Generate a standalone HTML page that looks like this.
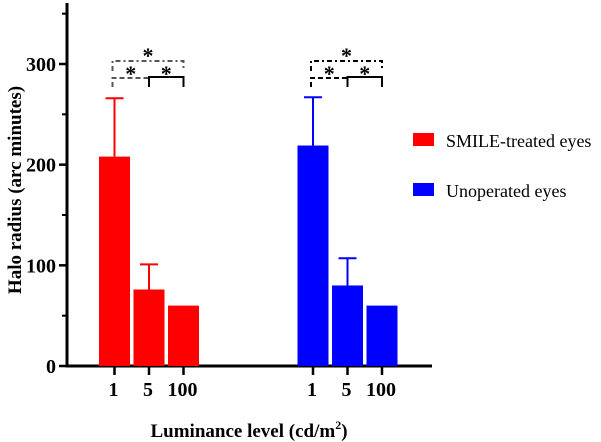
<!DOCTYPE html>
<html><head><meta charset="utf-8"><style>
html,body{margin:0;padding:0;background:#fff;}
svg{display:block;}
svg text{font-family:"Liberation Serif",serif;}
</style></head><body>
<svg id="chart" width="601" height="442" viewBox="0 0 601 442">
<g id="axes"></g>
<g id="bars"></g>
<g id="sig"></g>
<text transform="translate(21,190) rotate(-90)" text-anchor="middle" font-size="19" font-weight="bold" font-family="Liberation Serif, serif">Halo radius (arc minutes)</text>
<text x="249" y="437" text-anchor="middle" font-size="19" font-weight="bold" font-family="Liberation Serif, serif">Luminance level (cd/m<tspan font-size="12" dy="-8">2</tspan><tspan dy="8">)</tspan></text>
<g>
<rect x="413" y="133" width="21" height="13" fill="#ff0000"/>
<text x="446" y="147" font-size="18" font-family="Liberation Serif, serif">SMILE-treated eyes</text>
<rect x="413" y="183" width="21" height="13" fill="#0000ff"/>
<text x="446" y="197" font-size="18" font-family="Liberation Serif, serif">Unoperated eyes</text>
</g>
</svg>
<script>
const categories = ["1","5","100"];
const smileValues = [208, 76, 60];
const smileErrors = [58, 25, 0];
const unopValues = [219, 80, 60];
const unopErrors = [48, 27, 0];
const yTicks = [0, 100, 200, 300];
const yMinorTicks = [50, 150, 250, 350];

const NS = "http://www.w3.org/2000/svg";
const y0 = 366, pxPer = 302/300;
const y = v => y0 - v * pxPer;
const groupStart = [114.5, 313];
const pitch = 34.5, barW = 31;
const xc = (g, i) => groupStart[g] + i * pitch;

function mk(parent, tag, attrs) {
  const el = document.createElementNS(NS, tag);
  for (const k in attrs) el.setAttribute(k, attrs[k]);
  parent.appendChild(el);
  return el;
}
const axes = document.getElementById('axes');
let a = mk(axes, 'line', {x1:67, y1:3, x2:67, y2:y0+1.5, stroke:'#000','stroke-width':3});


a = mk(axes, 'line', {x1:65.5, y1:y0, x2:432, y2:y0, stroke:'#000','stroke-width':3});


yTicks.forEach(t => {
  const l = mk(axes, 'line', {x1:59, y1:y(t), x2:67, y2:y(t), stroke:'#000','stroke-width':2.5});
  
  
  const tx = mk(axes, 'text', {x:56, y:y(t)+7, 'text-anchor':'end','font-size':20,'font-weight':'bold','font-family':'Liberation Serif, serif'});
  tx.textContent = t;
  
  
});
yMinorTicks.forEach(t => {
  const l = mk(axes, 'line', {x1:62, y1:y(t), x2:67, y2:y(t), stroke:'#000','stroke-width':2});
  
  
});
const bars = document.getElementById('bars');
[[smileValues, smileErrors, '#ff0000'], [unopValues, unopErrors, '#0000ff']].forEach((s, g) => {
  categories.forEach((c, i) => {
    const cx = xc(g, i);
    const r = mk(bars, 'rect', {x:cx-barW/2, y:y(s[0][i]), width:barW, height:y0-y(s[0][i]), fill:s[2]});
    
    
    if (s[1][i] > 0) {
      const top = y(s[0][i] + s[1][i]);
      const e = mk(bars, 'path', {d:`M${cx},${y(s[0][i])}V${top}M${cx-9},${top}H${cx+9}`, stroke:s[2], 'stroke-width':2, fill:'none'});
      
      
    }
    const t = mk(axes, 'line', {x1:cx, y1:y0, x2:cx, y2:y0+9, stroke:'#000','stroke-width':2.5});
    
    
    const tx = mk(axes, 'text', {x:cx-1, y:396, 'text-anchor':'middle','font-size':20,'font-weight':'bold','font-family':'Liberation Serif, serif'});
    tx.textContent = c;
    
    
  });
});
const sig = document.getElementById('sig');
[0, 1].forEach(g => {
  const col = g ? '#000' : '#555';
  const x1 = xc(g,0)-2, x2 = xc(g,1), x3 = xc(g,2);
  const p1 = mk(sig, 'path', {d:`M${x1},71V61H${x3}V71`, stroke:col, 'stroke-width':2, fill:'none', 'stroke-dasharray':'5,3,2,3'});
  
  
  const p2 = mk(sig, 'path', {d:`M${x1},87V78H${x2}`, stroke:col, 'stroke-width':2, fill:'none', 'stroke-dasharray':'5,3'});
  
  
  const p3 = mk(sig, 'path', {d:`M${x2},87V77H${x3}V87`, stroke:'#000', 'stroke-width':2, fill:'none'});
  
  
  [[(x1+x3)/2, 63], [(x1+x2)/2, 81], [(x2+x3)/2, 81]].forEach(p => {
    const s = mk(sig, 'text', {x:p[0], y:p[1], 'text-anchor':'middle', 'font-size':22, 'font-weight':'bold', 'font-family':'Liberation Serif, serif'});
    s.textContent = '*';
    
    
  });
});
</script>
</body></html>
